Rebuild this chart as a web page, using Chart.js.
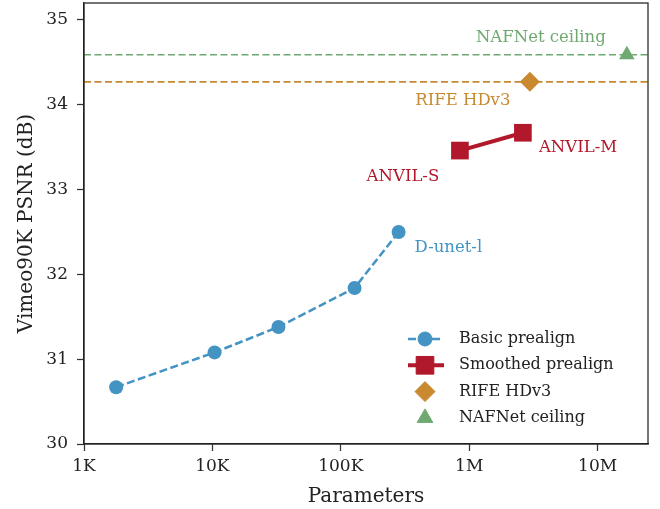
<!DOCTYPE html>
<html>
<head>
<meta charset="utf-8">
<script src="https://cdn.jsdelivr.net/npm/chart.js@4.4.1/dist/chart.umd.min.js"></script>
<style>
  html, body { margin: 0; padding: 0; background: #fff; }
  #wrap { width: 660px; height: 509px; }
</style>
</head>
<body>
<div id="wrap"><canvas id="chart" width="660" height="509"></canvas></div>
<script>
// data
const basicParams = [1780, 10400, 32700, 128000, 282000];
const basicPsnr = [30.67, 31.08, 31.38, 31.84, 32.50];
const smoothParams = [847000, 2620000];
const smoothPsnr = [33.46, 33.67];
const rifeParams = [2970000];
const rifePsnr = [34.27];
const nafnetParams = [16900000];
const nafnetPsnr = [34.59];

const xTickValues = [1e3, 1e4, 1e5, 1e6, 1e7];
const xTickLabels = ['1K', '10K', '100K', '1M', '10M'];
const yTickValues = [30, 31, 32, 33, 34, 35];
const xRange = [1000, 24700000];
const yRange = [30, 35.2];

const seriesNames = ['Basic prealign', 'Smoothed prealign', 'RIFE HDv3', 'NAFNet ceiling'];

const BLUE = '#4393c3', RED = '#b2182b', ORANGE = '#c8892f', GREEN = '#6fa971';
const INK = '#222';
const FONT = "'DejaVu Serif', serif";

const pts = (xs, ys) => xs.map((x, i) => ({ x: x, y: ys[i] }));
const hline = (y) => [{ x: xRange[0], y: y }, { x: xRange[1], y: y }];

// text next to the points: [text, series, index, dx, dy, align, colour]
const pointLabels = [
  ['NAFNet ceiling', 3, 0, -86, -17, 'center', GREEN],
  ['RIFE HDv3', 2, 0, -67, 19, 'center', ORANGE],
  ['ANVIL-M', 1, 1, 16, 15, 'left', RED],
  ['ANVIL-S', 1, 0, -57, 26, 'center', RED],
  ['D-unet-l', 0, 4, 16, 16, 'left', BLUE]
];

const extras = {
  id: 'extras',
  afterDraw(chart) {
    const ctx = chart.ctx;
    const a = chart.chartArea;
    const sx = chart.scales.x, sy = chart.scales.y;
    ctx.save();
    // box round the axes
    ctx.strokeStyle = INK;
    ctx.lineWidth = 1.25;
    ctx.strokeRect(a.left, a.top, a.right - a.left, a.bottom - a.top);

    // point labels
    ctx.font = '16.5px ' + FONT;
    ctx.textBaseline = 'middle';
    const srcX = [basicParams, smoothParams, rifeParams, nafnetParams];
    const srcY = [basicPsnr, smoothPsnr, rifePsnr, nafnetPsnr];
    pointLabels.forEach(l => {
      const px = sx.getPixelForValue(srcX[l[1]][l[2]]);
      const py = sy.getPixelForValue(srcY[l[1]][l[2]]);
      ctx.fillStyle = l[6];
      ctx.textAlign = l[5];
      ctx.fillText(l[0], px + l[3], py + l[4]);
    });

    // legend, lower right inside the axes
    ctx.font = '16px ' + FONT;
    const lx = 408, ly = 339, row = 26.3;
    const marks = [
      { c: BLUE, style: 'circle', r: 7, line: true, w: 2.5, dash: [8, 4] },
      { c: RED, style: 'rect', r: 12.5, line: true, w: 4, dash: [] },
      { c: ORANGE, style: 'rectRot', r: 10, line: false },
      { c: GREEN, style: 'triangle', r: 9, line: false }
    ];
    marks.forEach((m, i) => {
      const y = ly + i * row;
      if (m.line) {
        ctx.strokeStyle = m.c;
        ctx.lineWidth = m.w;
        ctx.setLineDash(m.dash);
        ctx.beginPath();
        ctx.moveTo(lx, y);
        ctx.lineTo(lx + 36, y);
        ctx.stroke();
        ctx.setLineDash([]);
      }
      ctx.fillStyle = m.c;
      ctx.strokeStyle = m.c;
      ctx.lineWidth = 1;
      Chart.helpers.drawPoint(ctx, { pointStyle: m.style, radius: m.r, rotation: 0, borderWidth: 1 }, lx + 17, y);
      ctx.fillStyle = INK;
      ctx.textAlign = 'left';
      ctx.fillText(seriesNames[i], lx + 51, y);
    });
    ctx.restore();
  }
};

const tickFont = { family: FONT, size: 17 };
const titleFont = { family: FONT, size: 20 };

new Chart(document.getElementById('chart'), {
  type: 'scatter',
  data: {
    datasets: [
      { label: 'NAFNet line', data: hline(nafnetPsnr[0]), showLine: true, borderColor: GREEN,
        borderWidth: 1.6, borderDash: [7, 3.5], pointRadius: 0 },
      { label: 'RIFE line', data: hline(rifePsnr[0]), showLine: true, borderColor: ORANGE,
        borderWidth: 1.6, borderDash: [7, 3.5], pointRadius: 0 },
      { label: seriesNames[0], data: pts(basicParams, basicPsnr), showLine: true, borderColor: BLUE,
        backgroundColor: BLUE, borderWidth: 2.5, borderDash: [8, 3.5], pointStyle: 'circle', pointRadius: 7,
        pointBorderWidth: 0 },
      { label: seriesNames[1], data: pts(smoothParams, smoothPsnr), showLine: true, borderColor: RED,
        backgroundColor: RED, borderWidth: 4, pointStyle: 'rect', pointRadius: 12.5, pointBorderWidth: 0 },
      { label: seriesNames[2], data: pts(rifeParams, rifePsnr), borderColor: ORANGE, backgroundColor: ORANGE,
        pointStyle: 'rectRot', pointRadius: 10, pointBorderWidth: 0 },
      { label: seriesNames[3], data: pts(nafnetParams, nafnetPsnr), borderColor: GREEN, backgroundColor: GREEN,
        pointStyle: 'triangle', pointRadius: 9, pointBorderWidth: 0 }
    ]
  },
  options: {
    responsive: false,
    devicePixelRatio: 1,
    animation: false,
    layout: { autoPadding: false, padding: { top: 3, right: 12, left: 0, bottom: 0 } },
    plugins: { legend: { display: false }, tooltip: { enabled: false } },
    scales: {
      x: {
        type: 'logarithmic',
        min: xRange[0], max: xRange[1],
        afterBuildTicks: s => { s.ticks = xTickValues.map(v => ({ value: v })); },
        afterFit: s => { s.height = 65; s.paddingLeft = 0; s.paddingRight = 0; },
        ticks: {
          font: tickFont, color: INK, padding: 5, maxRotation: 0, autoSkip: false,
          callback: v => xTickLabels[xTickValues.indexOf(v)]
        },
        grid: { drawOnChartArea: false, drawTicks: true, tickLength: 7, tickColor: '#333', tickWidth: 1.25 },
        border: { display: true, color: INK, width: 1.25 },
        title: { display: true, text: 'Parameters', font: titleFont, color: INK, padding: { top: 2, bottom: 0 } }
      },
      y: {
        min: yRange[0], max: yRange[1],
        afterBuildTicks: s => { s.ticks = yTickValues.map(v => ({ value: v })); },
        afterFit: s => { s.width = 84; s.paddingTop = 0; s.paddingBottom = 0; },
        ticks: { font: tickFont, color: INK, padding: 9 },
        grid: { drawOnChartArea: false, drawTicks: true, tickLength: 7, tickColor: '#333', tickWidth: 1.25 },
        border: { display: true, color: INK, width: 1.25 },
        title: { display: true, text: 'Vimeo90K PSNR (dB)', font: titleFont, color: INK, padding: { top: 15, bottom: 4 } }
      }
    }
  },
  plugins: [extras]
});
</script>
</body>
</html>
